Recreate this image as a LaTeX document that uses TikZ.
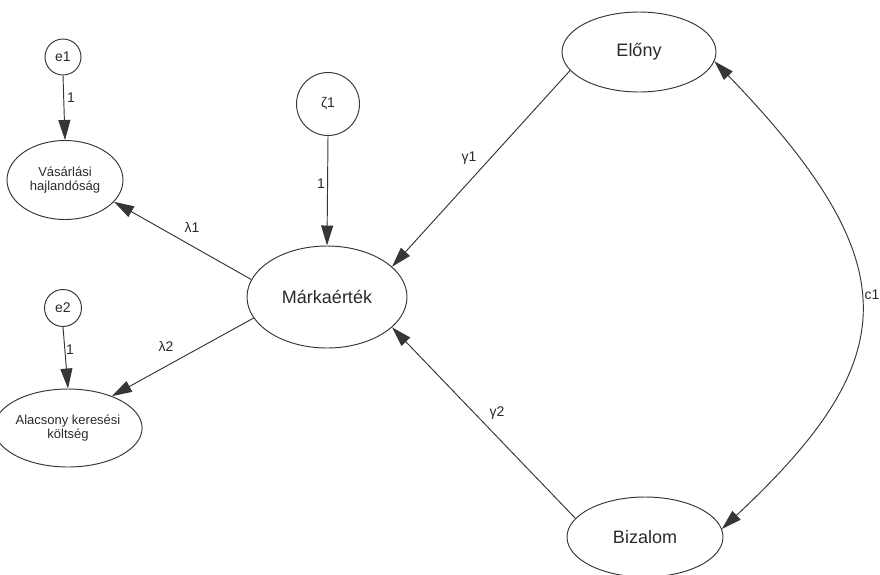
\documentclass[tikz,border=0pt]{standalone}
\usepackage{fontspec}
\setmainfont{Liberation Sans}
\usetikzlibrary{arrows.meta,shapes.geometric}
\definecolor{ln}{HTML}{363636}
\definecolor{tx}{HTML}{2A2A2A}
\begin{document}
\begin{tikzpicture}[x=1pt,y=-1pt,
  lat/.style={ellipse,draw=ln,line width=0.95pt,inner sep=0pt,text=tx,font=\fontsize{18}{20}\selectfont},
  obs/.style={ellipse,draw=ln,line width=0.95pt,inner sep=0pt,text=tx,align=center,font=\fontsize{13}{14.5}\selectfont},
  err/.style={circle,draw=ln,line width=0.95pt,inner sep=0pt,text=tx,font=\fontsize{14}{16}\selectfont},
  arr/.style={draw=ln,line width=0.95pt,-{Triangle[length=20pt,width=12pt]}},
  darr/.style={draw=ln,line width=0.95pt,{Triangle[length=20pt,width=12pt]}-{Triangle[length=20pt,width=12pt]}},
  lbl/.style={text=tx,inner sep=0pt,font=\fontsize{14}{16}\selectfont}]
\useasboundingbox[fill=white] (0,0) rectangle (880,574);
% nodes
\node[err,minimum size=36pt] (e1) at (63,57) {e1};
\node[obs,minimum width=116pt,minimum height=79pt] (vas) at (65,180) {Vásárlási\\hajlandóság};
\node[err,minimum size=37pt] (e2) at (63,308) {e2};
\node[obs,minimum width=123pt,minimum height=78pt] (alac) at (68,428) {Alacsony keresési\\költség};
\node[err,minimum size=63pt] (zeta) at (328,104) {ζ1};
\node[lat,minimum width=160pt,minimum height=102pt] (marka) at (327,297) {Márkaérték};
\node[lat,minimum width=154pt,minimum height=80pt] (elony) at (639,52) {Előny};
\node[lat,minimum width=156pt,minimum height=80pt] (biz) at (645,537) {Bizalom};
% connectors
\draw[arr] (e1.south) -- (vas.north);
\draw[arr] (e2.south) -- (alac.north);
\draw[arr] (zeta.south) -- (marka.north);
\draw[arr] (marka.167) -- (vas.-24);
\draw[arr] (marka.196) -- (alac.36);
\draw[arr] (elony.195) -- (marka.25);
\draw[arr] (biz.165) -- (marka.-25);
\draw[darr] (elony.-7) .. controls (910,264) and (904,359) .. (biz.6);
% labels
\node[lbl] (l1) at (71,98) {1};
\node[lbl] (l2) at (70,350) {1};
\node[lbl] (l3) at (321,184) {1};
\node[lbl] (lam1) at (192,227) {λ1};
\node[lbl] (lam2) at (166,346) {λ2};
\node[lbl] (gam1) at (469,158) {γ1};
\node[lbl] (gam2) at (497,413) {γ2};
\node[lbl] (c1) at (872,295) {c1};
\end{tikzpicture}
\end{document}
